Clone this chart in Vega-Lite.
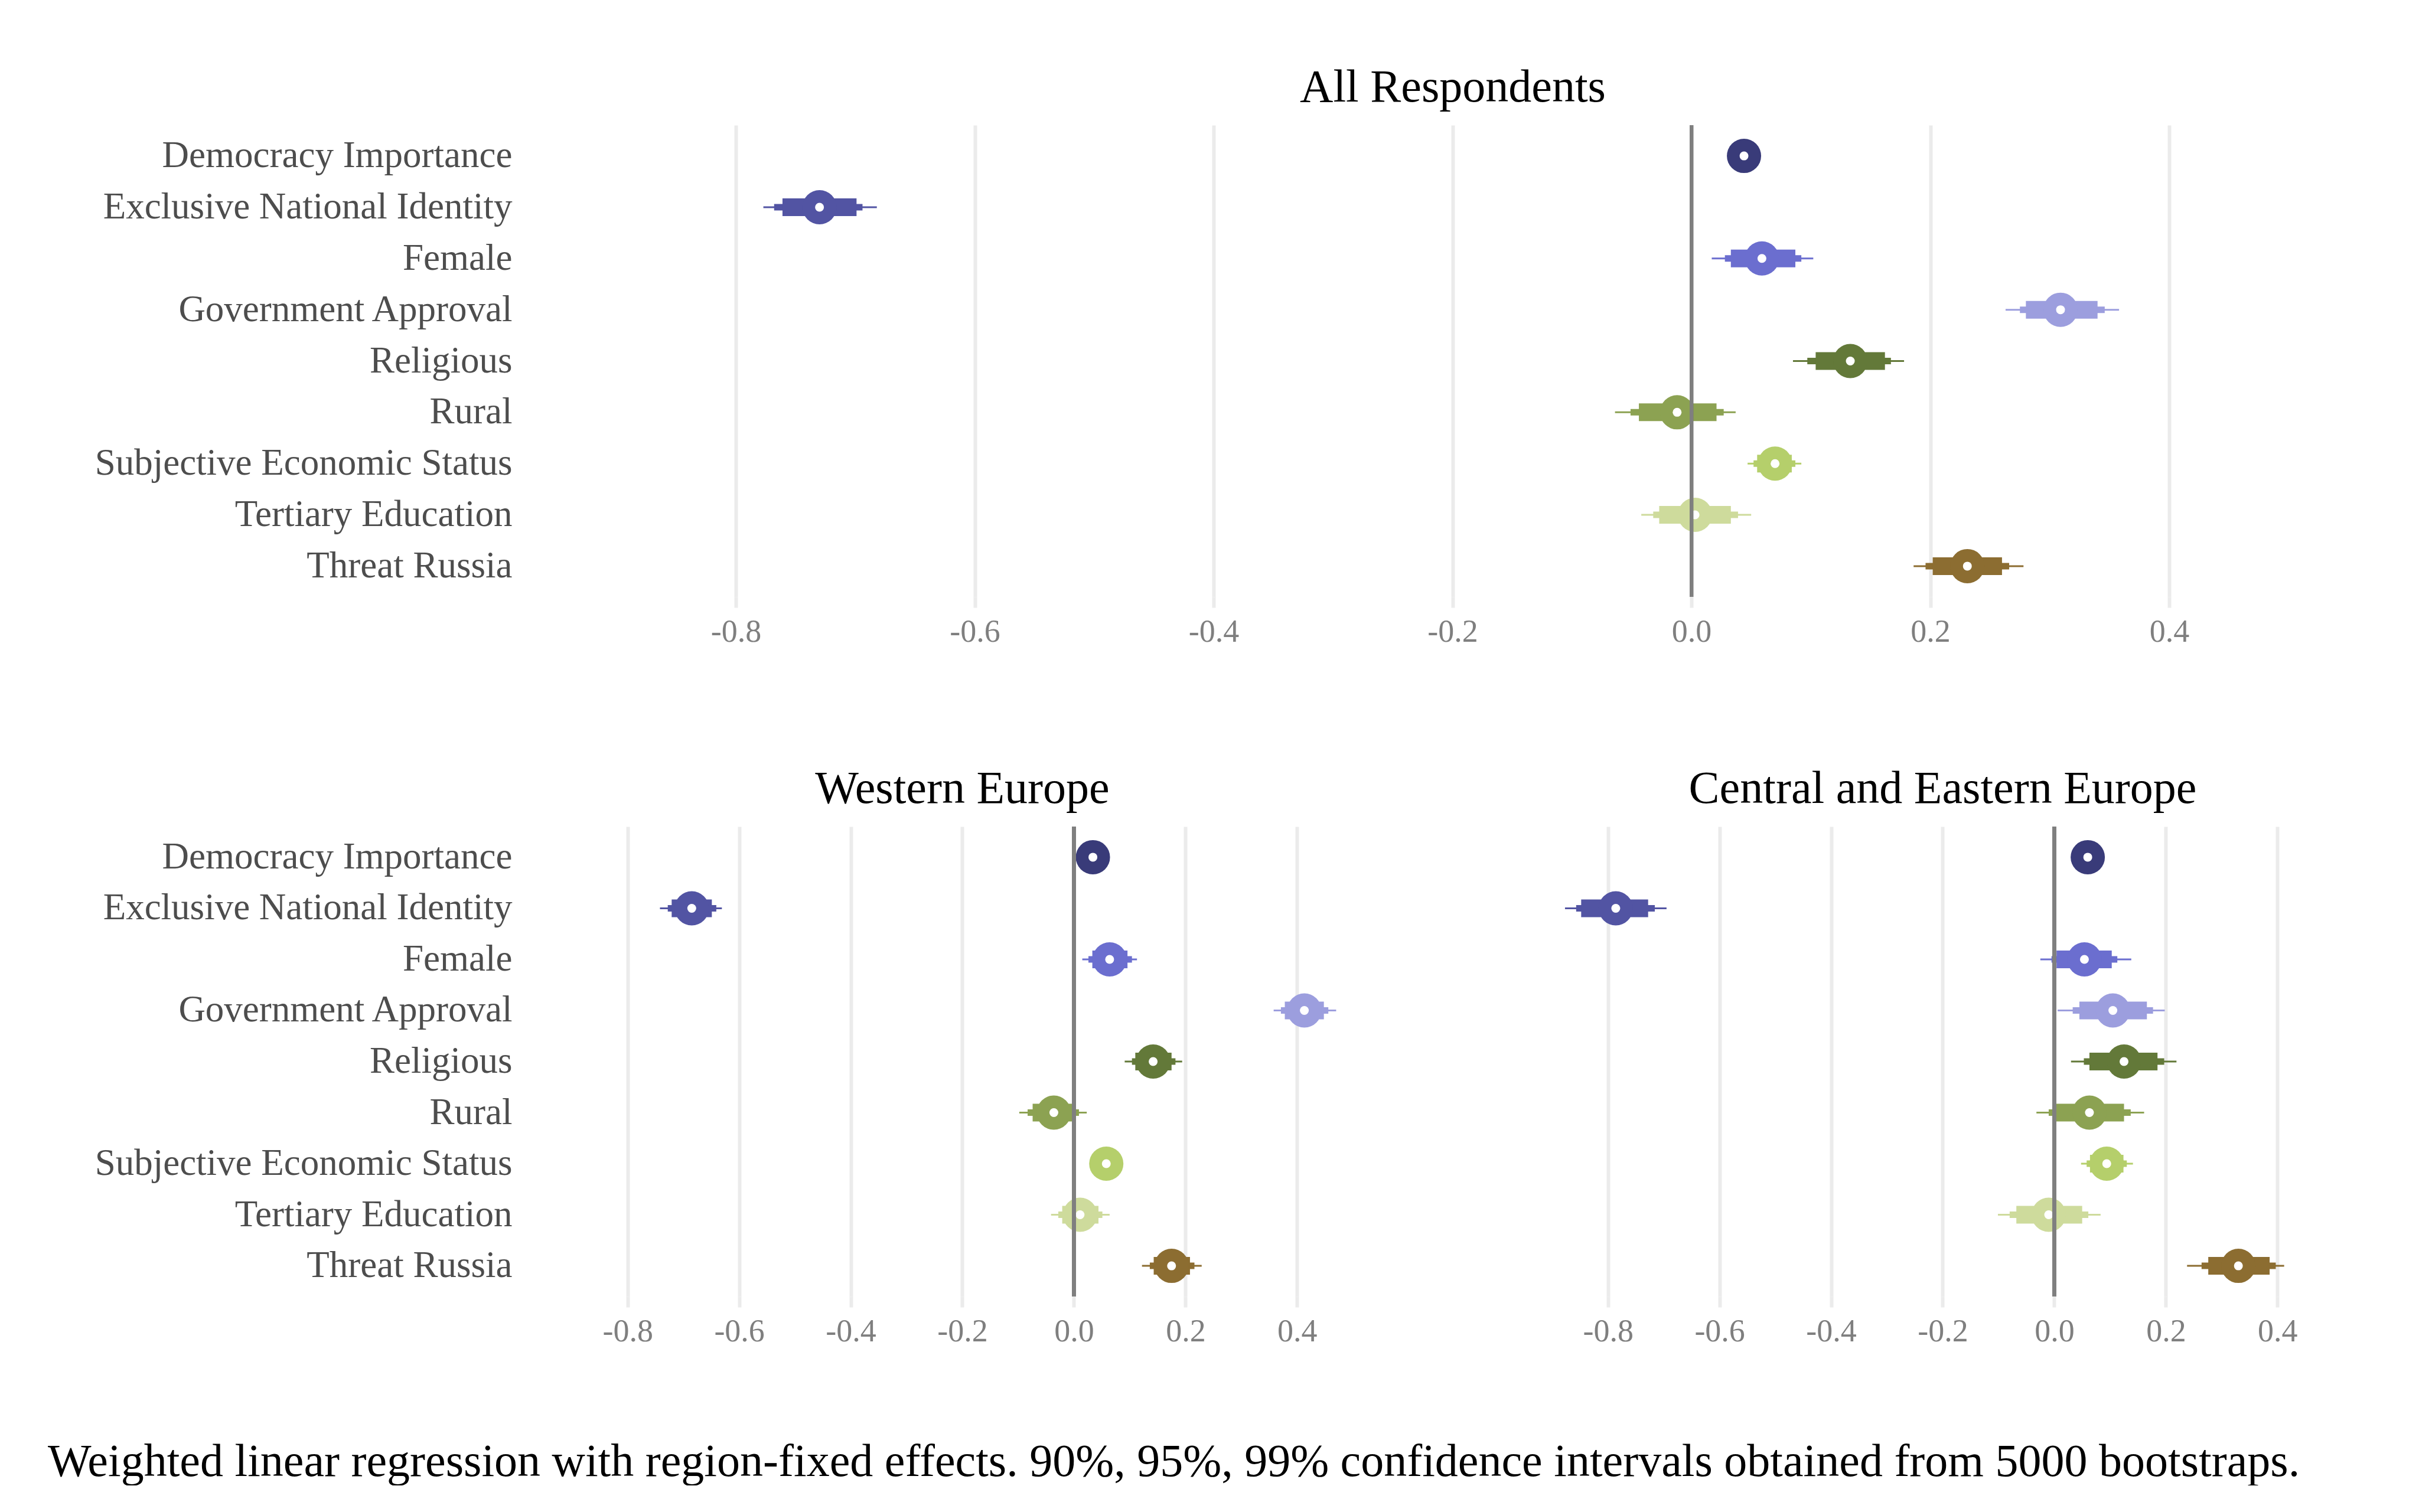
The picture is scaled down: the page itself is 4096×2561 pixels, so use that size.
{
  "$schema": "https://vega.github.io/schema/vega-lite/v6.json",
  "autosize": {"type": "pad"},
  "padding": {"left": 81, "top": 110, "right": 0, "bottom": 0},
  "background": "white",
  "bounds": "flush",
  "spacing": 389,
  "title": {
    "text": "Weighted linear regression with region-fixed effects. 90%, 95%, 99% confidence intervals obtained from 5000 bootstraps.",
    "orient": "bottom",
    "anchor": "start",
    "frame": "group",
    "dx": -925,
    "offset": 218,
    "baseline": "alphabetic"
  },
  "datasets": {
    "coefs": [
      {"region": "All", "var": "Democracy Importance", "est": 0.044, "l90": 0.039, "h90": 0.049, "l95": 0.037, "h95": 0.051, "l99": 0.035, "h99": 0.053},
      {"region": "All", "var": "Exclusive National Identity", "est": -0.730, "l90": -0.761, "h90": -0.699, "l95": -0.768, "h95": -0.694, "l99": -0.777, "h99": -0.682},
      {"region": "All", "var": "Female", "est": 0.059, "l90": 0.033, "h90": 0.087, "l95": 0.028, "h95": 0.092, "l99": 0.017, "h99": 0.102},
      {"region": "All", "var": "Government Approval", "est": 0.309, "l90": 0.280, "h90": 0.340, "l95": 0.275, "h95": 0.346, "l99": 0.263, "h99": 0.358},
      {"region": "All", "var": "Religious", "est": 0.133, "l90": 0.104, "h90": 0.162, "l95": 0.097, "h95": 0.167, "l99": 0.085, "h99": 0.178},
      {"region": "All", "var": "Rural", "est": -0.012, "l90": -0.044, "h90": 0.021, "l95": -0.051, "h95": 0.027, "l99": -0.064, "h99": 0.037},
      {"region": "All", "var": "Subjective Economic Status", "est": 0.070, "l90": 0.055, "h90": 0.084, "l95": 0.052, "h95": 0.087, "l99": 0.047, "h99": 0.092},
      {"region": "All", "var": "Tertiary Education", "est": 0.003, "l90": -0.027, "h90": 0.033, "l95": -0.032, "h95": 0.039, "l99": -0.042, "h99": 0.050},
      {"region": "All", "var": "Threat Russia", "est": 0.231, "l90": 0.202, "h90": 0.260, "l95": 0.196, "h95": 0.266, "l99": 0.186, "h99": 0.278},
      {"region": "West", "var": "Democracy Importance", "est": 0.034, "l90": 0.024, "h90": 0.044, "l95": 0.021, "h95": 0.047, "l99": 0.017, "h99": 0.051},
      {"region": "West", "var": "Exclusive National Identity", "est": -0.685, "l90": -0.721, "h90": -0.649, "l95": -0.728, "h95": -0.641, "l99": -0.742, "h99": -0.631},
      {"region": "West", "var": "Female", "est": 0.064, "l90": 0.033, "h90": 0.096, "l95": 0.026, "h95": 0.104, "l99": 0.015, "h99": 0.113},
      {"region": "West", "var": "Government Approval", "est": 0.413, "l90": 0.378, "h90": 0.448, "l95": 0.371, "h95": 0.456, "l99": 0.358, "h99": 0.470},
      {"region": "West", "var": "Religious", "est": 0.142, "l90": 0.110, "h90": 0.175, "l95": 0.104, "h95": 0.182, "l99": 0.091, "h99": 0.194},
      {"region": "West", "var": "Rural", "est": -0.036, "l90": -0.074, "h90": 0.000, "l95": -0.083, "h95": 0.009, "l99": -0.098, "h99": 0.023},
      {"region": "West", "var": "Subjective Economic Status", "est": 0.058, "l90": 0.045, "h90": 0.071, "l95": 0.042, "h95": 0.074, "l99": 0.038, "h99": 0.078},
      {"region": "West", "var": "Tertiary Education", "est": 0.011, "l90": -0.021, "h90": 0.044, "l95": -0.028, "h95": 0.051, "l99": -0.041, "h99": 0.064},
      {"region": "West", "var": "Threat Russia", "est": 0.175, "l90": 0.143, "h90": 0.208, "l95": 0.136, "h95": 0.216, "l99": 0.122, "h99": 0.229},
      {"region": "CEE", "var": "Democracy Importance", "est": 0.060, "l90": 0.045, "h90": 0.075, "l95": 0.042, "h95": 0.078, "l99": 0.037, "h99": 0.083},
      {"region": "CEE", "var": "Exclusive National Identity", "est": -0.786, "l90": -0.848, "h90": -0.728, "l95": -0.857, "h95": -0.716, "l99": -0.877, "h99": -0.695},
      {"region": "CEE", "var": "Female", "est": 0.054, "l90": 0.004, "h90": 0.103, "l95": -0.005, "h95": 0.113, "l99": -0.025, "h99": 0.138},
      {"region": "CEE", "var": "Government Approval", "est": 0.105, "l90": 0.045, "h90": 0.166, "l95": 0.033, "h95": 0.177, "l99": 0.006, "h99": 0.198},
      {"region": "CEE", "var": "Religious", "est": 0.125, "l90": 0.063, "h90": 0.185, "l95": 0.053, "h95": 0.197, "l99": 0.030, "h99": 0.219},
      {"region": "CEE", "var": "Rural", "est": 0.063, "l90": 0.003, "h90": 0.125, "l95": -0.010, "h95": 0.137, "l99": -0.032, "h99": 0.161},
      {"region": "CEE", "var": "Subjective Economic Status", "est": 0.094, "l90": 0.064, "h90": 0.124, "l95": 0.058, "h95": 0.130, "l99": 0.048, "h99": 0.141},
      {"region": "CEE", "var": "Tertiary Education", "est": -0.010, "l90": -0.068, "h90": 0.050, "l95": -0.080, "h95": 0.061, "l99": -0.101, "h99": 0.083},
      {"region": "CEE", "var": "Threat Russia", "est": 0.330, "l90": 0.276, "h90": 0.386, "l95": 0.264, "h95": 0.397, "l99": 0.238, "h99": 0.412}
    ]
  },
  "vconcat": [
    {
      "title": {"text": "All Respondents", "dx": 60},
      "width": 2788,
      "height": 799,
      "data": {"name": "coefs"},
      "transform": [{"filter": "datum.region === 'All'"}],
      "encoding": {
        "y": {"field": "var", "type": "nominal", "sort": null, "title": null,
              "scale": {"type": "band", "paddingInner": 0, "paddingOuter": 0.1},
              "axis": {"labelPadding": 139}},
        "color": {"field": "var", "type": "nominal", "legend": null,
                  "scale": {"domain": ["Democracy Importance", "Exclusive National Identity", "Female", "Government Approval", "Religious", "Rural", "Subjective Economic Status", "Tertiary Education", "Threat Russia"],
                            "range": ["#393b79", "#5254a3", "#6b6ecf", "#9c9ede", "#637939", "#8ca252", "#b5cf6b", "#cedb9c", "#8c6d31"]}}
      },
      "layer": [
        {"mark": {"type": "bar", "height": 3},
         "encoding": {"x": {"field": "l99", "type": "quantitative", "title": null,
                            "scale": {"domain": [-0.9187, 0.4598], "nice": false, "zero": false},
                            "axis": {"values": [-0.8, -0.6, -0.4, -0.2, 0, 0.2, 0.4]}},
                      "x2": {"field": "h99"}}},
        {"mark": {"type": "bar", "height": 11},
         "encoding": {"x": {"field": "l95", "type": "quantitative"}, "x2": {"field": "h95"}}},
        {"mark": {"type": "bar", "height": 30},
         "encoding": {"x": {"field": "l90", "type": "quantitative"}, "x2": {"field": "h90"}}},
        {"mark": {"type": "circle", "size": 3364, "opacity": 1},
         "encoding": {"x": {"field": "est", "type": "quantitative"}}},
        {"mark": {"type": "circle", "size": 225, "opacity": 1, "color": "white"},
         "encoding": {"x": {"field": "est", "type": "quantitative"}, "color": {"value": "white"}}},
        {"mark": {"type": "rule", "color": "#7f7f7f", "strokeWidth": 6},
         "encoding": {"x": {"datum": 0}, "y": null, "color": {"value": "#7f7f7f"}}}
      ]
    },
    {
      "hconcat": [
        {
          "title": {"text": "Western Europe"},
          "width": 1247,
          "height": 796,
          "data": {"name": "coefs"},
          "transform": [{"filter": "datum.region === 'West'"}],
          "encoding": {
            "y": {"field": "var", "type": "nominal", "sort": null, "title": null,
                  "scale": {"type": "band", "paddingInner": 0, "paddingOuter": 0.1},
                  "axis": {"labelPadding": 139}},
            "color": {"field": "var", "type": "nominal", "legend": null,
                      "scale": {"domain": ["Democracy Importance", "Exclusive National Identity", "Female", "Government Approval", "Religious", "Rural", "Subjective Economic Status", "Tertiary Education", "Threat Russia"],
                                "range": ["#393b79", "#5254a3", "#6b6ecf", "#9c9ede", "#637939", "#8ca252", "#b5cf6b", "#cedb9c", "#8c6d31"]}}
          },
          "layer": [
            {"mark": {"type": "bar", "height": 3},
             "encoding": {"x": {"field": "l99", "type": "quantitative", "title": null,
                                "scale": {"domain": [-0.86, 0.46], "nice": false, "zero": false},
                                "axis": {"values": [-0.8, -0.6, -0.4, -0.2, 0, 0.2, 0.4]}},
                          "x2": {"field": "h99"}}},
            {"mark": {"type": "bar", "height": 11},
             "encoding": {"x": {"field": "l95", "type": "quantitative"}, "x2": {"field": "h95"}}},
            {"mark": {"type": "bar", "height": 30},
             "encoding": {"x": {"field": "l90", "type": "quantitative"}, "x2": {"field": "h90"}}},
            {"mark": {"type": "circle", "size": 3364, "opacity": 1},
             "encoding": {"x": {"field": "est", "type": "quantitative"}}},
            {"mark": {"type": "circle", "size": 225, "opacity": 1, "color": "white"},
             "encoding": {"x": {"field": "est", "type": "quantitative"}, "color": {"value": "white"}}},
            {"mark": {"type": "rule", "color": "#7f7f7f", "strokeWidth": 6},
             "encoding": {"x": {"datum": 0}, "y": null, "color": {"value": "#7f7f7f"}}}
          ]
        },
        {
          "title": {"text": "Central and Eastern Europe"},
          "width": 1247,
          "height": 796,
          "data": {"name": "coefs"},
          "transform": [{"filter": "datum.region === 'CEE'"}],
          "encoding": {
            "y": {"field": "var", "type": "nominal", "sort": null, "title": null,
                  "scale": {"type": "band", "paddingInner": 0, "paddingOuter": 0.1},
                  "axis": {"labels": false}},
            "color": {"field": "var", "type": "nominal", "legend": null,
                      "scale": {"domain": ["Democracy Importance", "Exclusive National Identity", "Female", "Government Approval", "Religious", "Rural", "Subjective Economic Status", "Tertiary Education", "Threat Russia"],
                                "range": ["#393b79", "#5254a3", "#6b6ecf", "#9c9ede", "#637939", "#8ca252", "#b5cf6b", "#cedb9c", "#8c6d31"]}}
          },
          "layer": [
            {"mark": {"type": "bar", "height": 3},
             "encoding": {"x": {"field": "l99", "type": "quantitative", "title": null,
                                "scale": {"domain": [-0.86, 0.46], "nice": false, "zero": false},
                                "axis": {"values": [-0.8, -0.6, -0.4, -0.2, 0, 0.2, 0.4]}},
                          "x2": {"field": "h99"}}},
            {"mark": {"type": "bar", "height": 11},
             "encoding": {"x": {"field": "l95", "type": "quantitative"}, "x2": {"field": "h95"}}},
            {"mark": {"type": "bar", "height": 30},
             "encoding": {"x": {"field": "l90", "type": "quantitative"}, "x2": {"field": "h90"}}},
            {"mark": {"type": "circle", "size": 3364, "opacity": 1},
             "encoding": {"x": {"field": "est", "type": "quantitative"}}},
            {"mark": {"type": "circle", "size": 225, "opacity": 1, "color": "white"},
             "encoding": {"x": {"field": "est", "type": "quantitative"}, "color": {"value": "white"}}},
            {"mark": {"type": "rule", "color": "#7f7f7f", "strokeWidth": 6},
             "encoding": {"x": {"datum": 0}, "y": null, "color": {"value": "#7f7f7f"}}}
          ]
        }
      ],
      "spacing": 413,
      "bounds": "flush"
    }
  ],
  "config": {
    "font": "Liberation Serif",
    "view": {"stroke": null},
    "title": {"font": "Liberation Serif", "fontSize": 78, "fontWeight": "normal", "color": "#000000",
              "anchor": "middle", "baseline": "alphabetic", "offset": 21},
    "axisX": {
      "labelExpr": "replace(format(datum.value, '.1f'), '\u2212', '-')",
      "grid": true, "gridColor": "#ebebeb", "gridWidth": 6,
      "domain": false, "ticks": true, "tickColor": "#ebebeb", "tickWidth": 6, "tickSize": 18,
      "labelFont": "Liberation Serif", "labelFontSize": 54, "labelColor": "#7f7f7f", "labelPadding": 14,
      "labelFlush": false
    },
    "axisY": {
      "grid": false, "domain": false, "ticks": false,
      "labelFont": "Liberation Serif", "labelFontSize": 63, "labelColor": "#4d4d4d", "labelLimit": 2000
    }
  }
}
